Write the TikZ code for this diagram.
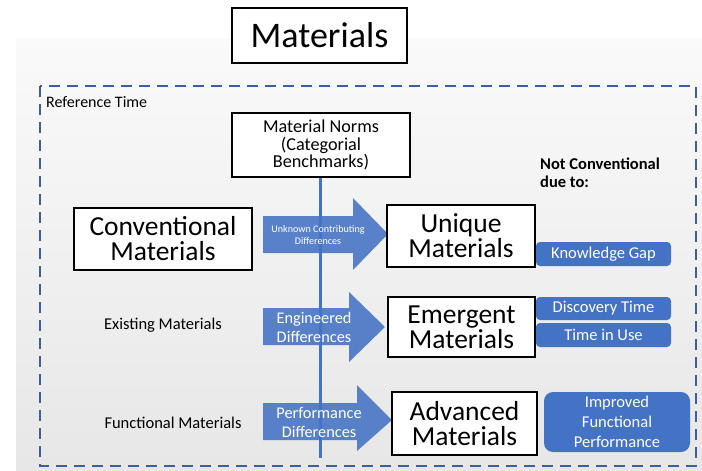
\documentclass[tikz,border=0pt]{standalone}
\usepackage{fontspec}
\setmainfont{Carlito}
\usetikzlibrary{positioning}
\definecolor{slideblue}{RGB}{68,114,196}
\definecolor{dashblue}{RGB}{62,94,160}
\tikzset{
 matbox/.style={draw=black,line width=2.8pt,fill=white,align=center,inner sep=0pt},
 bigtext/.style={font=\fontsize{27.5}{25}\selectfont},
 tagbox/.style={fill=slideblue,rounded corners=4pt,text=white,align=center,inner sep=0pt,
  font=\fontsize{16.5}{20}\selectfont},
 sidetext/.style={align=center,inner sep=0pt,font=\fontsize{16.5}{18}\selectfont},
 arrowtext/.style={text=white,align=center,inner sep=0pt}
}
\begin{document}
\begin{tikzpicture}[x=1pt,y=-1pt]
 \useasboundingbox (0,0) rectangle (702,471);
 \shade[top color=gray!4,bottom color=gray!19] (16,38) rectangle (702,471);
 % frame of the reference time
 \draw[dashblue,line width=2.4pt,dash pattern=on 11pt off 7pt] (40,86) rectangle (696,466);
 \node[matbox,minimum width=175pt,minimum height=55pt,font=\fontsize{36}{40}\selectfont] (title) at (319.5,35.5) {Materials};
 \node[anchor=west,inner sep=0pt,font=\fontsize{16}{18}\selectfont] (reftime) at (46,102) {Reference Time};
 \node[matbox,minimum width=178pt,minimum height=64pt,font=\fontsize{18.2}{17.5}\selectfont] (norms) at (321,145) {Material Norms\\(Categorial\\Benchmarks)};
 % time axis
 \coordinate (axisend) at (320,458);
 \draw[slideblue,line width=3pt] (norms.south -| axisend) -- (axisend);
 % block arrows
 \fill[slideblue,fill opacity=0.88] (263,216)--(353,216)--(353,198)--(388,234)--(353,270)--(353,253)--(263,253)--cycle;
 \fill[slideblue,fill opacity=0.88] (263,308)--(349,308)--(349,292)--(385,327)--(349,362)--(349,345)--(263,345)--cycle;
 \fill[slideblue,fill opacity=0.88] (263,403)--(357,403)--(357,385)--(392,420)--(357,451)--(357,440)--(263,440)--cycle;
 \node[arrowtext,font=\fontsize{10.1}{12}\selectfont] (unknown) at (318,235) {Unknown Contributing\\Differences};
 \node[arrowtext,font=\fontsize{16.3}{19}\selectfont] (engineered) at (314,327) {Engineered\\Differences};
 \node[arrowtext,font=\fontsize{16.3}{19}\selectfont] (performance) at (319,422) {Performance\\Differences};
 % material classes
 \node[matbox,bigtext,minimum width=178pt,minimum height=62pt] (conv) at (163,239) {Conventional\\Materials};
 \node[matbox,bigtext,minimum width=148pt,minimum height=62pt] (unique) at (461,236) {Unique\\Materials};
 \node[matbox,bigtext,minimum width=147pt,minimum height=60pt] (emergent) at (461.5,327) {Emergent\\Materials};
 \node[matbox,bigtext,minimum width=145pt,minimum height=63pt] (advanced) at (464.5,423.5) {Advanced\\Materials};
 \node[sidetext] (existing) at (163,325) {Existing Materials};
 \node[sidetext] (functional) at (173,423) {Functional Materials};
 % reasons
 \node[align=left,anchor=north west,inner sep=0pt,font=\bfseries\fontsize{16.5}{18}\selectfont] (notconv) at (540,158) {Not Conventional\\due to:};
 \node[tagbox,minimum width=135pt,minimum height=24pt] (gap) at (603.5,254) {Knowledge Gap};
 \node[tagbox,minimum width=135pt,minimum height=23pt] (discovery) at (603.5,308.5) {Discovery Time};
 \node[tagbox,minimum width=135pt,minimum height=24pt] (inuse) at (603.5,335) {Time in Use};
 \node[tagbox,rounded corners=9pt,minimum width=146pt,minimum height=60pt] (improved) at (617,422) {Improved\\Functional\\Performance};
\end{tikzpicture}
\end{document}
